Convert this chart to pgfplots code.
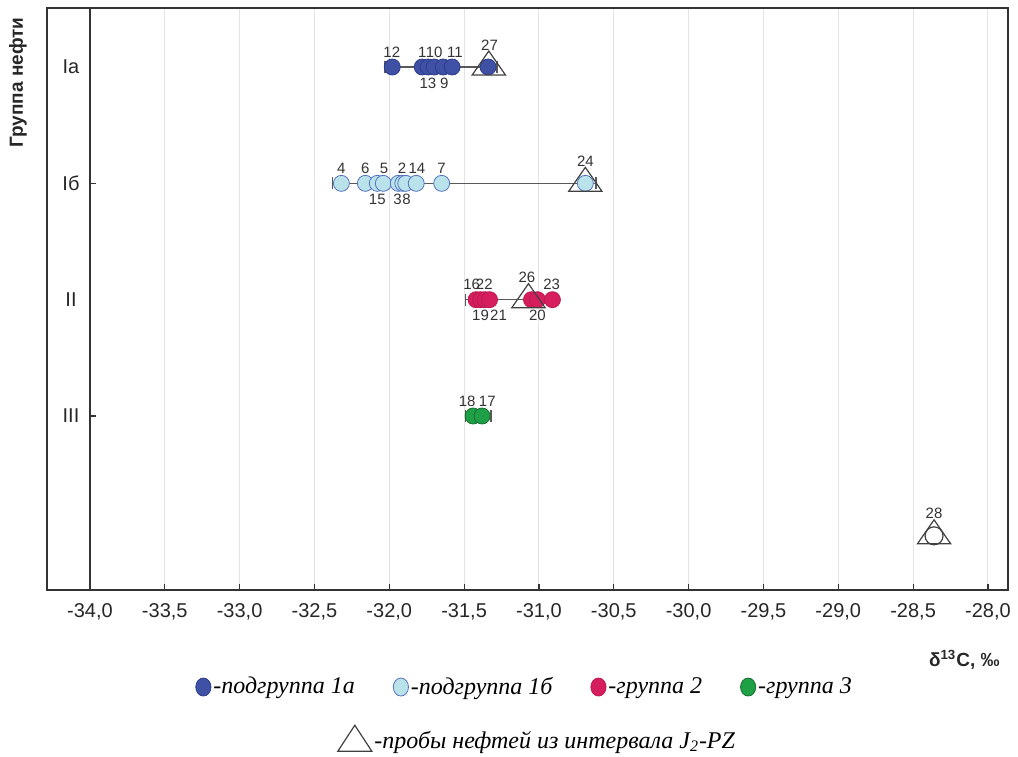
\documentclass[border=0pt]{standalone}
\usepackage{pgfplots}
\pgfplotsset{compat=1.18}
\usepackage{fontspec}
\setmainfont{Liberation Sans}
\newfontfamily\legfont{Liberation Serif}
\definecolor{cA}{RGB}{63,81,165}
\definecolor{cAe}{RGB}{45,60,140}
\definecolor{cB}{RGB}{186,226,234}
\definecolor{cBe}{RGB}{85,115,190}
\definecolor{cC}{RGB}{214,30,94}
\definecolor{cCe}{RGB}{190,25,80}
\definecolor{cD}{RGB}{30,160,70}
\definecolor{cDe}{RGB}{25,110,50}
\begin{document}
\begin{tikzpicture}[x=1pt,y=1pt,
  lblA/.style={font=\fontsize{7.5}{9}\selectfont, text=black!80, yshift=7.5pt, inner sep=0pt},
  lblB/.style={font=\fontsize{7.5}{9}\selectfont, text=black!80, yshift=-8pt, inner sep=0pt},
  lblT/.style={font=\fontsize{7.5}{9}\selectfont, text=black!80, yshift=11pt, inner sep=0pt}]
\useasboundingbox (-23.5,-83) rectangle (485.5,295);
\begin{axis}[at={(0,0)}, anchor=south west, scale only axis,
  width=480.5pt, height=291pt,
  xmin=-34.287, xmax=-27.866, ymin=0.4928, ymax=5.4958, y dir=reverse,
  xtick={-34,-33.5,...,-28}, ytick={1,2,3,4}, yticklabels={Ia,Iб,II,III},
  xmajorgrids, major grid style={gray!22, line width=0.5pt},
  axis line style={black!80, line width=0.8pt},
  tick align=inside, xtick pos=bottom, ytick style={draw=none},
  major tick length=3pt, xtick style={black!80, line width=0.6pt},
  tick label style={font=\fontsize{10}{12}\selectfont, text=black!85},
  xticklabel style={yshift=-3pt},
  yticklabel style={anchor=center, xshift=12pt},
  /pgf/number format/.cd, fixed, fixed zerofill, precision=1, use comma, assume math mode=true,
  /pgfplots/.cd,
  legend style={at={(0.497,-0.1667)}, anchor=center, draw=none, fill=none,
    legend columns=4, font=\legfont\itshape\fontsize{12}{14}\selectfont,
    nodes={inner xsep=1pt},
    /tikz/every even column/.append style={column sep=18pt}},
  legend cell align=left]
\addlegendimage{legend image code/.code={\draw[draw=cAe, fill=cA, line width=0.4pt] (0pt,0pt) ellipse [x radius=3.8pt, y radius=4.5pt];}}
\addlegendimage{legend image code/.code={\draw[draw=cBe, fill=cB, line width=0.4pt] (0pt,0pt) ellipse [x radius=3.8pt, y radius=4.5pt];}}
\addlegendimage{legend image code/.code={\draw[draw=cCe, fill=cC, line width=0.4pt] (0pt,0pt) ellipse [x radius=3.8pt, y radius=4.5pt];}}
\addlegendimage{legend image code/.code={\draw[draw=cDe, fill=cD, line width=0.4pt] (0pt,0pt) ellipse [x radius=3.8pt, y radius=4.5pt];}}
\legend{-подгруппа 1а,-подгруппа 1б,-группа 2,-группа 3}

\draw[black!80, line width=1.2pt] (axis cs:-34,0.4928) -- (axis cs:-34,5.4958);
\draw[black!80, line width=0.6pt] (axis cs:-34,2) -- ++(3pt,0pt);
\draw[black!80, line width=0.6pt] (axis cs:-34,4) -- ++(3pt,0pt);

% range lines
\addplot[black!65, line width=0.8pt, mark=|, mark size=3pt, mark options={solid}] coordinates {(-32.03,1) (-31.28,1)};
\addplot[black!65, line width=0.8pt, mark=|, mark size=3pt, mark options={solid}] coordinates {(-32.38,2) (-30.62,2)};
\addplot[black!65, line width=0.8pt, mark=|, mark size=3pt, mark options={solid}] coordinates {(-31.49,3) (-30.88,3)};
\addplot[black!65, line width=0.8pt, mark=|, mark size=3pt, mark options={solid}] coordinates {(-31.49,4) (-31.32,4)};

% group Ia
\addplot[only marks, mark=*, mark size=4pt, mark options={draw=cAe, fill=cA, line width=0.4pt}] coordinates {
(-31.98,1) (-31.78,1) (-31.74,1) (-31.70,1) (-31.64,1) (-31.58,1) (-31.34,1)};
% group Ib
\addplot[only marks, mark=*, mark size=4pt, mark options={draw=cBe, fill=cB, line width=0.4pt}] coordinates {
(-32.32,2) (-32.16,2) (-32.08,2) (-32.04,2) (-31.94,2) (-31.91,2) (-31.89,2) (-31.82,2) (-31.65,2) (-30.69,2)};
% group II
\addplot[only marks, mark=*, mark size=4pt, mark options={draw=cCe, fill=cC, line width=0.4pt}] coordinates {
(-31.42,3) (-31.39,3) (-31.36,3) (-31.33,3) (-31.05,3) (-31.01,3) (-30.91,3)};
% group III
\addplot[only marks, mark=*, mark size=4pt, mark options={draw=cDe, fill=cD, line width=0.4pt}] coordinates {
(-31.44,4) (-31.38,4)};
% sample 28
\addplot[only marks, mark=*, mark size=4.5pt, mark options={draw=black!75, fill=white, line width=0.6pt}] coordinates {(-28.36,5.03)};
% J2-PZ triangles
\addplot[only marks, mark=triangle, mark size=8pt, mark options={draw=black!75, line width=0.6pt, xscale=1.2}] coordinates {
(-31.335,1) (-30.69,2) (-31.07,3) (-28.36,5.03)};

% labels Ia
\node[lblA] at (axis cs:-31.983,1) {12};
\node[lblA] at (axis cs:-31.780,1) {1};
\node[lblA] at (axis cs:-31.700,1) {10};
\node[lblA] at (axis cs:-31.562,1) {11};
\node[lblT] at (axis cs:-31.330,1) {27};
\node[lblB] at (axis cs:-31.742,1) {13};
\node[lblB] at (axis cs:-31.632,1) {9};
% labels Ib
\node[lblA] at (axis cs:-32.320,2) {4};
\node[lblA] at (axis cs:-32.160,2) {6};
\node[lblA] at (axis cs:-32.035,2) {5};
\node[lblA] at (axis cs:-31.915,2) {2};
\node[lblA] at (axis cs:-31.815,2) {14};
\node[lblA] at (axis cs:-31.650,2) {7};
\node[lblT] at (axis cs:-30.690,2) {24};
\node[lblB] at (axis cs:-32.080,2) {15};
\node[lblB] at (axis cs:-31.945,2) {3};
\node[lblB] at (axis cs:-31.885,2) {8};
% labels II
\node[lblA] at (axis cs:-31.450,3) {16};
\node[lblA] at (axis cs:-31.365,3) {22};
\node[lblT] at (axis cs:-31.080,3) {26};
\node[lblA] at (axis cs:-30.915,3) {23};
\node[lblB] at (axis cs:-31.390,3) {19};
\node[lblB] at (axis cs:-31.270,3) {21};
\node[lblB] at (axis cs:-31.010,3) {20};
% labels III
\node[lblA] at (axis cs:-31.480,4) {18};
\node[lblA] at (axis cs:-31.345,4) {17};
% label 28
\node[lblT] at (axis cs:-28.360,5.03) {28};
\end{axis}
\begin{axis}[at={(0,0)}, anchor=south west, scale only axis,
  width=480.5pt, height=291pt, hide axis, xmin=0, xmax=1, ymin=0, ymax=1,
  legend style={at={(0.51,-0.2577)}, anchor=center, draw=none, fill=none,
    font=\legfont\itshape\fontsize{12}{14}\selectfont, nodes={inner xsep=1pt}},
  legend cell align=left]
\addlegendimage{legend image code/.code={\draw[black!75, line width=0.6pt] (-8.5pt,-5pt) -- (8.5pt,-5pt) -- (0pt,8pt) -- cycle;}}
\addplot[draw=none, forget plot] coordinates {(0.5,0.5)};
\legend{-пробы нефтей из интервала J\textsubscript{2}-PZ}
\end{axis}
\node[rotate=90, font=\bfseries\fontsize{9.5}{11}\selectfont, text=black!85] at (-14.5,253.7) {Группа нефти};
\node[anchor=east, font=\bfseries\fontsize{9.5}{11}\selectfont, text=black!85, inner sep=0pt] at (476.5,-35) {δ\textsuperscript{13}C, ‰};
\end{tikzpicture}
\end{document}
